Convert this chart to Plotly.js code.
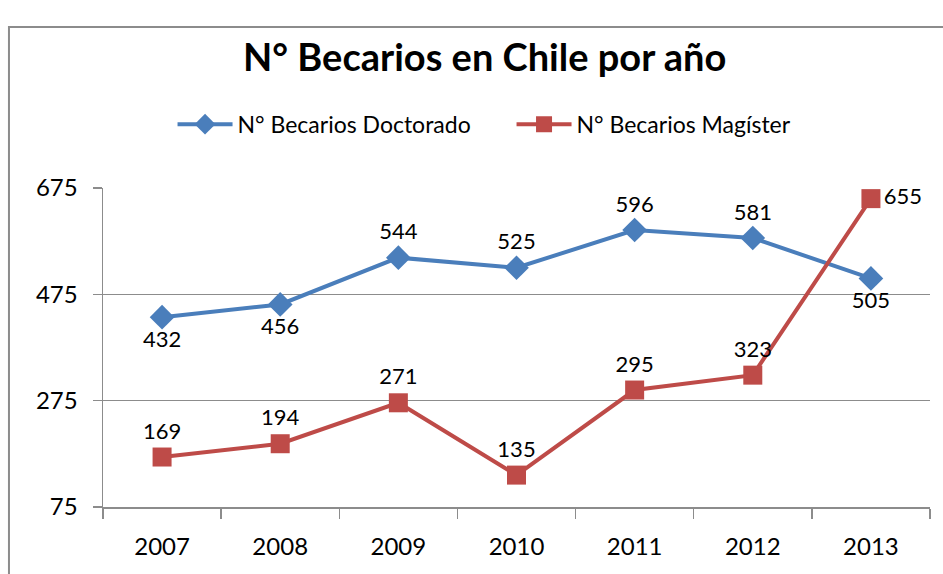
<!DOCTYPE html>
<html>
<head>
<meta charset="utf-8">
<script src="https://cdn.plot.ly/plotly-3.0.1.min.js"></script>
<style>
  html, body { margin: 0; padding: 0; background: #fff; }
  #chart { width: 943px; height: 574px; }
</style>
</head>
<body>
<div id="chart"></div>
<script>
// Categories and values
const years = ['2007', '2008', '2009', '2010', '2011', '2012', '2013'];
const doctorado = [432, 456, 544, 525, 596, 581, 505];
const magister = [169, 194, 271, 135, 295, 323, 655];
const yTicks = [75, 275, 475, 675];

// Where each data label sits
const docLabelPos = ['bottom center', 'bottom center', 'top center', 'top center', 'top center', 'top center', 'bottom center'];
const magLabelPos = ['top center', 'top center', 'top center', 'top center', 'top center', 'top center', 'middle right'];

const FontName = 'Lato, "Open Sans", sans-serif';
const GridColor = '#8c8c8c';

var traceDoc = {
    x: years,
    y: doctorado,
    name: 'N° Becarios Doctorado',
    type: 'scatter',
    mode: 'lines+markers+text',
    text: doctorado.map(String),
    textposition: docLabelPos,
    textfont: { family: FontName, size: 22, color: '#000' },
    line: { color: '#4a7ebb', width: 4 },
    marker: { symbol: 'diamond', size: 19, color: '#4a7ebb' },
    cliponaxis: false,
    hoverinfo: 'none'
};

var traceMag = {
    x: years,
    y: magister,
    name: 'N° Becarios Magíster',
    type: 'scatter',
    mode: 'lines+markers+text',
    text: magister.map(String),
    textposition: magLabelPos,
    textfont: { family: FontName, size: 22, color: '#000' },
    line: { color: '#be4b48', width: 4 },
    marker: { symbol: 'square', size: 19, color: '#be4b48' },
    cliponaxis: false,
    hoverinfo: 'none'
};

var layout = {
    width: 943,
    height: 574,
    margin: { l: 103, r: 13, t: 188, b: 67 },
    paper_bgcolor: '#fff',
    plot_bgcolor: '#fff',
    font: { family: FontName, color: '#000' },
    title: {
        text: '<b>N° Becarios en Chile por año</b>',
        font: { family: FontName, size: 38, color: '#000' },
        x: 0.514,
        xanchor: 'center',
        y: 0.9,
        yanchor: 'middle'
    },
    showlegend: true,
    legend: {
        orientation: 'h',
        x: 0.494,
        xanchor: 'center',
        y: 1.2,
        yanchor: 'middle',
        font: { family: FontName, size: 23, color: '#000' },
        itemwidth: 55,
        entrywidth: 269,
        bgcolor: 'rgba(0,0,0,0)'
    },
    xaxis: {
        type: 'category',
        range: [-0.5, 6.5],
        fixedrange: true,
        showgrid: false,
        showline: true,
        linecolor: GridColor,
        linewidth: 1.5,
        ticks: 'outside',
        tickson: 'boundaries',
        ticklen: 10,
        tickcolor: GridColor,
        tickwidth: 1.5,
        ticklabelstandoff: 18,
        tickfont: { family: FontName, size: 24, color: '#000' }
    },
    yaxis: {
        range: [75, 675],
        fixedrange: true,
        tickvals: yTicks,
        ticktext: yTicks.map(String),
        showgrid: true,
        gridcolor: GridColor,
        gridwidth: 1.5,
        zeroline: false,
        showline: true,
        linecolor: GridColor,
        linewidth: 1.5,
        ticks: 'outside',
        ticklen: 9,
        tickcolor: GridColor,
        tickwidth: 1.5,
        ticklabelstandoff: 10,
        tickfont: { family: FontName, size: 24, color: '#000' }
    },
    shapes: [{
        type: 'rect',
        xref: 'paper',
        yref: 'paper',
        x0: -0.1137,
        x1: 1.2,
        y0: -0.5,
        y1: 1.505,
        line: { color: '#8c8c8c', width: 2 },
        layer: 'below'
    }]
};

Plotly.newPlot('chart', [traceDoc, traceMag], layout, { displayModeBar: false, staticPlot: true });
</script>
</body>
</html>
